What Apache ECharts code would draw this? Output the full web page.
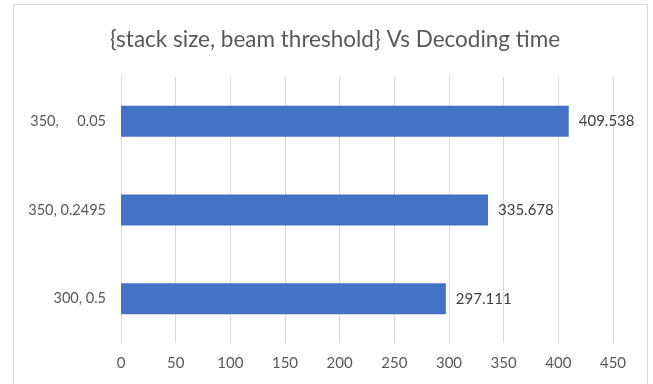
<!DOCTYPE html>
<html>
<head>
<meta charset="utf-8">
<script src="https://cdn.jsdelivr.net/npm/echarts@6/dist/echarts.min.js"></script>
<style>html,body{margin:0;padding:0;background:#fff;}#c{width:653px;height:384px;}</style>
</head>
<body>
<div id="c"></div>
<script>
const categories = ["300, 0.5", "350, 0.2495", "350,     0.05"];
const decodingTimes = [297.111, 335.678, 409.538];
const xTicks = { min: 0, max: 450, interval: 50 };
const titleText = "{stack size, beam threshold} Vs Decoding time";

const chart = echarts.init(document.getElementById('c'), null, { renderer: 'canvas' });
chart.setOption({
  backgroundColor: '#ffffff',
  animation: false,
  graphic: [{
    type: 'rect',
    shape: { x: 13.5, y: 4.5, width: 634, height: 400 },
    style: { fill: 'none', stroke: '#d9d9d9', lineWidth: 1 },
    silent: true
  }],
  title: {
    text: titleText,
    left: 330, top: 23, textAlign: 'center',
    textStyle: { fontFamily: 'Lato', fontSize: 22.5, fontWeight: 'normal', color: '#595959' }
  },
  grid: { left: 121, right: 40, top: 77, height: 266, containLabel: false },
  xAxis: {
    type: 'value', min: xTicks.min, max: xTicks.max, interval: xTicks.interval,
    axisLine: { show: false }, axisTick: { show: false },
    axisLabel: { color: '#595959', fontFamily: 'Lato', fontSize: 15, margin: 13 },
    splitLine: { lineStyle: { color: '#d9d9d9', width: 1 } }
  },
  yAxis: {
    type: 'category', data: categories,
    axisLine: { show: false }, axisTick: { show: false },
    axisLabel: { color: '#595959', fontFamily: 'Lato', fontSize: 14.5, margin: 15 }
  },
  series: [{
    type: 'bar', data: decodingTimes, barWidth: 31,
    itemStyle: { color: '#4472c4' },
    label: { show: true, position: 'right', distance: 10, color: '#404040', fontFamily: 'Lato', fontSize: 15 }
  }]
});
</script>
</body>
</html>
